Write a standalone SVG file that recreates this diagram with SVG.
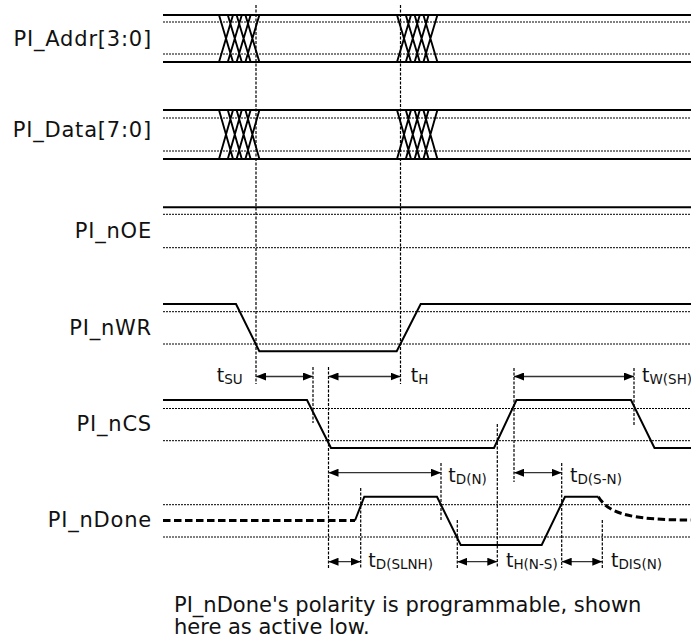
<svg xmlns="http://www.w3.org/2000/svg" width="691" height="638" viewBox="0 0 691 638">
<style>
.sig{fill:none;stroke:#000;stroke-width:2;stroke-linejoin:miter}
.ref{fill:none;stroke:#000;stroke-width:1;stroke-dasharray:2,1}
.guide{fill:none;stroke:#000;stroke-width:1.2;stroke-dasharray:3,1.5}
.x{fill:none;stroke:#000;stroke-width:1.9}
.tri{fill:none;stroke:#000;stroke-width:3;stroke-dasharray:7.5,3.5}
.arr{fill:none;stroke:#333;stroke-width:1.3;marker-start:url(#ah);marker-end:url(#ah)}
.lbl{font-family:"DejaVu Sans",Verdana,sans-serif;font-size:21px;fill:#111;letter-spacing:0.8px;text-anchor:end}
.tm{font-family:"DejaVu Sans",Verdana,sans-serif;font-size:19px;fill:#111}
.sub{font-size:13.5px}
.note{font-family:"DejaVu Sans",Verdana,sans-serif;font-size:21px;fill:#111}
</style>
<defs>
<marker id="ah" viewBox="0 0 10 8" refX="10" refY="4" markerWidth="10" markerHeight="8" markerUnits="userSpaceOnUse" orient="auto-start-reverse">
<path d="M0,0 L10,4 L0,8 z" fill="#000"/>
</marker>
</defs>
<rect width="691" height="638" fill="#fff"/>

<g id="pi-addr">
<text class="lbl" x="152" y="45.7">PI_Addr[3:0]</text>
<line class="ref" x1="163" y1="22" x2="691" y2="22"/>
<line class="ref" x1="163" y1="54" x2="691" y2="54"/>
<line class="sig" x1="163" y1="15" x2="691" y2="15"/>
<line class="sig" x1="163" y1="62" x2="691" y2="62"/>
<path class="x" d="M219,15L233,62M227.8,15L241.8,62M236.6,15L250.6,62M245.4,15L259.4,62M219,62L233,15M227.8,62L241.8,15M236.6,62L250.6,15M245.4,62L259.4,15"/>
<path class="x" d="M397,15L411,62M405.8,15L419.8,62M414.6,15L428.6,62M423.4,15L437.4,62M397,62L411,15M405.8,62L419.8,15M414.6,62L428.6,15M423.4,62L437.4,15"/>
</g>

<g id="pi-data">
<text class="lbl" x="152" y="137.3">PI_Data[7:0]</text>
<line class="ref" x1="163" y1="118" x2="691" y2="118"/>
<line class="ref" x1="163" y1="151" x2="691" y2="151"/>
<line class="sig" x1="163" y1="110" x2="691" y2="110"/>
<line class="sig" x1="163" y1="159" x2="691" y2="159"/>
<path class="x" d="M219,110L233,159M227.8,110L241.8,159M236.6,110L250.6,159M245.4,110L259.4,159M219,159L233,110M227.8,159L241.8,110M236.6,159L250.6,110M245.4,159L259.4,110"/>
<path class="x" d="M397,110L411,159M405.8,110L419.8,159M414.6,110L428.6,159M423.4,110L437.4,159M397,159L411,110M405.8,159L419.8,110M414.6,159L428.6,110M423.4,159L437.4,110"/>
</g>

<g id="pi-noe">
<text class="lbl" x="152" y="238.3">PI_nOE</text>
<line class="ref" x1="163" y1="214.3" x2="691" y2="214.3"/>
<line class="ref" x1="163" y1="247.7" x2="691" y2="247.7"/>
<line class="sig" x1="163" y1="207.3" x2="691" y2="207.3"/>
</g>

<g id="pi-nwr">
<text class="lbl" x="152" y="335">PI_nWR</text>
<line class="ref" x1="163" y1="311.7" x2="691" y2="311.7"/>
<line class="ref" x1="163" y1="344" x2="691" y2="344"/>
<path class="sig" d="M163,304H236L259.3,351.3H396.7L420.7,304H691"/>
</g>

<g id="pi-ncs">
<text class="lbl" x="152" y="430.7">PI_nCS</text>
<line class="ref" x1="163" y1="408.5" x2="691" y2="408.5"/>
<line class="ref" x1="163" y1="440.7" x2="691" y2="440.7"/>
<path class="sig" d="M163,400H307L331,448H494L516.5,400H631L654.5,448H691"/>
</g>

<g id="pi-ndone">
<text class="lbl" x="152" y="527.3">PI_nDone</text>
<line class="ref" x1="163" y1="504.7" x2="691" y2="504.7"/>
<line class="ref" x1="163" y1="537" x2="691" y2="537"/>
<line class="tri" x1="163" y1="520.5" x2="355" y2="520.5"/>
<path class="sig" d="M355,520.5L364.3,496.7H437L460.7,545H541.7L565,496.7H598.3"/>
<path class="tri" d="M598.3,496.7C608,512 625,520 691,520"/>
</g>

<g id="connectors">
<line class="guide" x1="256" y1="5" x2="256" y2="384"/>
<line class="guide" x1="400.5" y1="5" x2="400.5" y2="384"/>
<line class="guide" x1="313" y1="367" x2="313" y2="423"/>
<line class="guide" x1="328.5" y1="367" x2="328.5" y2="568"/>
<line class="guide" x1="514" y1="368" x2="514" y2="482"/>
<line class="guide" x1="634" y1="368" x2="634" y2="425"/>
<line class="guide" x1="360.7" y1="488" x2="360.7" y2="568"/>
<line class="guide" x1="441" y1="463" x2="441" y2="520"/>
<line class="guide" x1="457.3" y1="520" x2="457.3" y2="568"/>
<line class="guide" x1="497.3" y1="424" x2="497.3" y2="568"/>
<line class="guide" x1="561.7" y1="463" x2="561.7" y2="568"/>
<line class="guide" x1="602.3" y1="520" x2="602.3" y2="568"/>

<line class="arr" x1="256" y1="376.5" x2="313" y2="376.5"/>
<line class="arr" x1="328.5" y1="376.5" x2="400.5" y2="376.5"/>
<line class="arr" x1="514" y1="376.5" x2="634" y2="376.5"/>
<line class="arr" x1="328.5" y1="472.7" x2="441" y2="472.7"/>
<line class="arr" x1="514" y1="472.7" x2="561.7" y2="472.7"/>
<line class="arr" x1="328.5" y1="561.7" x2="360.7" y2="561.7"/>
<line class="arr" x1="457.3" y1="561.7" x2="497.3" y2="561.7"/>
<line class="arr" x1="561.7" y1="561.7" x2="602.3" y2="561.7"/>
</g>

<g id="timing-labels">
<text class="tm" x="216.7" y="381.7">t<tspan class="sub" dy="2.5">SU</tspan></text>
<text class="tm" x="410.7" y="381.7">t<tspan class="sub" dy="2.5">H</tspan></text>
<text class="tm" x="642" y="381.7">t<tspan class="sub" dy="2.5">W(SH)</tspan></text>
<text class="tm" x="448.3" y="481.5">t<tspan class="sub" dy="2.5">D(N)</tspan></text>
<text class="tm" x="570" y="481.5">t<tspan class="sub" dy="2.5">D(S-N)</tspan></text>
<text class="tm" x="368.3" y="566.7">t<tspan class="sub" dy="2.5">D(SLNH)</tspan></text>
<text class="tm" x="506" y="566.7">t<tspan class="sub" dy="2.5">H(N-S)</tspan></text>
<text class="tm" x="611" y="566.7">t<tspan class="sub" dy="2.5">DIS(N)</tspan></text>
</g>

<g id="note">
<text class="note" x="174" y="611.5">PI_nDone's polarity is programmable, shown</text>
<text class="note" x="174" y="634">here as active low.</text>
</g>
</svg>
